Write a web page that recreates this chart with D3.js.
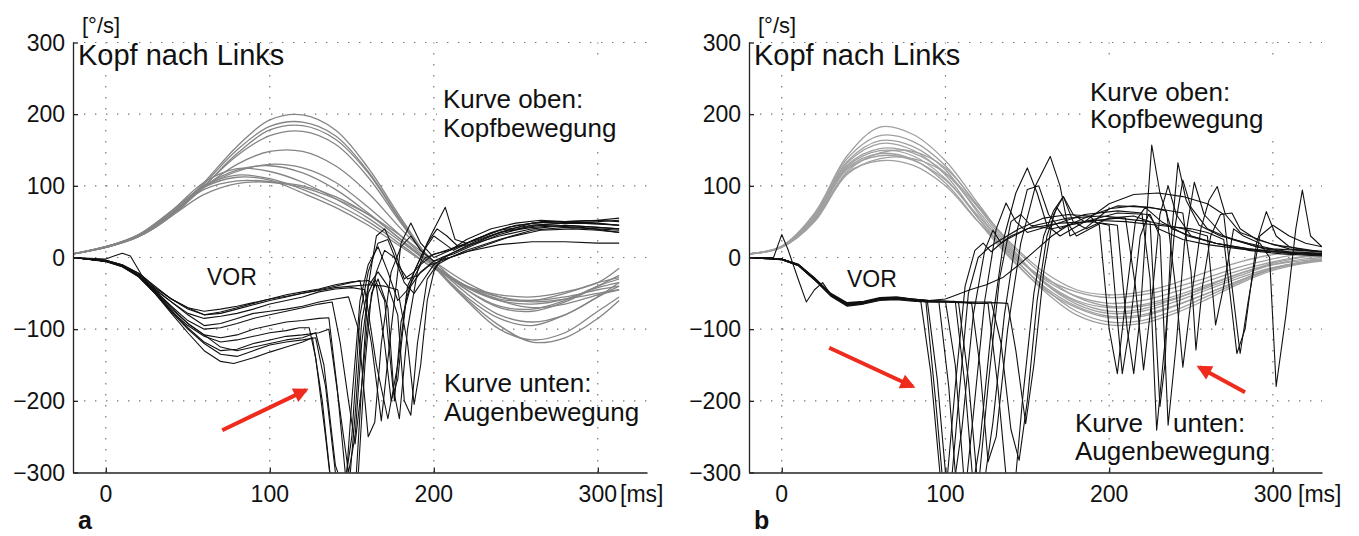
<!DOCTYPE html>
<html>
<head>
<meta charset="utf-8">
<script src="https://cdn.jsdelivr.net/npm/d3@7"></script>
<style>
  body { margin: 0; background: #fff; }
  svg text { font-family: "Liberation Sans", Arial, Helvetica, sans-serif; fill: #111; }
</style>
</head>
<body>
<div id="chart"></div>
<script>
// axis ticks
var xTicks = [0, 100, 200, 300];
var yTicks = [-300, -200, -100, 0, 100, 200, 300];

// panel a: head velocity (grey), sampled at headTimesA
var headTimesA = [-20, 0, 20, 40, 60, 80, 100, 120, 140, 160, 180, 200, 220, 240, 260, 280, 300, 313];
var headA = [
  [5, 14, 30, 60, 105, 155, 192, 199, 178, 125, 55, -10, -55, -85, -95, -80, -55, -40],
  [5, 14, 30, 60, 103, 150, 183, 189, 170, 120, 52, -12, -60, -100, -115, -105, -75, -55],
  [5, 14, 29, 58, 100, 145, 178, 184, 165, 118, 50, -10, -58, -95, -118, -112, -85, -60],
  [5, 14, 29, 58, 100, 142, 170, 176, 158, 112, 48, -8, -50, -80, -90, -80, -55, -35],
  [5, 14, 29, 58, 98, 130, 148, 148, 128, 90, 40, -5, -45, -70, -75, -62, -40, -25],
  [5, 15, 30, 60, 98, 120, 130, 125, 105, 70, 30, -10, -45, -68, -72, -60, -40, -30],
  [5, 15, 31, 62, 100, 122, 128, 118, 95, 62, 25, -10, -40, -58, -60, -50, -35, -28],
  [5, 15, 32, 65, 105, 124, 120, 105, 82, 55, 22, -12, -42, -60, -65, -58, -42, -35],
  [5, 15, 32, 65, 100, 115, 110, 95, 75, 50, 18, -15, -40, -55, -60, -55, -45, -40],
  [5, 15, 31, 62, 95, 107, 106, 100, 85, 60, 25, -12, -40, -60, -70, -65, -52, -45],
  [5, 15, 30, 58, 88, 103, 105, 98, 82, 60, 30, -5, -35, -55, -62, -58, -50, -45],
  [5, 15, 31, 63, 98, 112, 108, 90, 70, 45, 15, -15, -40, -52, -55, -48, -35, -15]
];

// panel a: eye velocity (black), [ms, deg/s]
var eyeA = [
  [[-20,0],[0,-4],[10,-10],[20,-22],[30,-42],[40,-58],[50,-70],[60,-75],[70,-72],[80,-68],[90,-63],[100,-58],[110,-54],[120,-50],[130,-45],[140,-40],[150,-35],[155,-32],[162,-120],[168,-228],[174,-100],[180,20],[186,48],[192,20],[200,0],[210,10],[220,25],[235,40],[250,48],[265,52],[280,50],[300,52],[313,50]],
  [[-20,0],[0,-5],[10,-11],[20,-24],[30,-45],[40,-62],[50,-78],[60,-85],[70,-82],[80,-78],[90,-72],[100,-65],[110,-60],[120,-55],[130,-48],[140,-44],[150,-42],[158,-45],[165,-150],[172,-225],[178,-150],[184,-40],[190,-10],[198,30],[207,70],[213,25],[220,20],[235,35],[250,45],[270,50],[290,48],[313,45]],
  [[-20,0],[0,-6],[10,-13],[20,-26],[30,-50],[40,-75],[50,-95],[60,-110],[70,-118],[80,-115],[90,-110],[100,-105],[110,-102],[118,-98],[124,-98],[128,-140],[134,-250],[138,-330],[146,-330],[150,-200],[155,-60],[160,-10],[166,15],[172,-20],[178,-60],[184,-45],[192,-10],[200,5],[210,10],[225,25],[240,38],[260,45],[280,48],[300,47],[313,45]],
  [[-20,0],[0,-5],[10,-12],[20,-25],[30,-48],[40,-72],[50,-92],[60,-108],[70,-125],[80,-130],[90,-125],[100,-120],[110,-115],[120,-112],[128,-105],[133,-150],[140,-290],[146,-330],[152,-330],[156,-180],[160,-40],[165,30],[170,40],[176,10],[182,-30],[188,-20],[195,0],[205,8],[220,20],[240,35],[260,42],[280,45],[300,42],[313,40]],
  [[-20,0],[0,-5],[10,-12],[20,-27],[30,-50],[40,-78],[50,-105],[60,-130],[70,-145],[78,-148],[90,-140],[100,-132],[110,-125],[120,-118],[126,-112],[132,-200],[138,-330],[148,-330],[152,-220],[156,-90],[160,-40],[166,-20],[172,-40],[178,-80],[182,-200],[186,-220],[190,-120],[196,-30],[202,-10],[210,0],[220,10],[240,25],[260,38],[280,42],[300,40],[313,38]],
  [[-20,0],[0,-5],[10,-12],[20,-26],[30,-48],[40,-74],[50,-98],[60,-118],[70,-130],[80,-128],[90,-120],[100,-115],[110,-110],[120,-108],[130,-105],[136,-100],[142,-200],[148,-300],[152,-250],[156,-120],[160,-50],[164,-30],[170,-60],[175,-180],[179,-225],[184,-100],[190,-20],[196,20],[202,40],[208,30],[215,15],[225,20],[240,30],[260,40],[280,45],[300,42],[313,40]],
  [[-20,0],[0,-4],[10,-11],[20,-24],[30,-44],[40,-62],[50,-80],[60,-95],[70,-92],[80,-85],[90,-78],[100,-75],[110,-72],[120,-68],[130,-62],[140,-58],[148,-55],[154,-100],[160,-250],[164,-230],[168,-120],[174,-20],[180,15],[186,30],[192,10],[200,-5],[210,5],[225,20],[240,35],[260,48],[280,50],[300,52],[313,55]],
  [[-20,0],[0,-2],[5,2],[10,6],[15,2],[22,-25],[30,-42],[40,-58],[50,-70],[60,-80],[70,-78],[80,-72],[90,-66],[100,-60],[110,-55],[120,-50],[130,-46],[140,-42],[150,-40],[160,-38],[170,-40],[178,-45],[184,-120],[188,-205],[192,-150],[196,-60],[200,-20],[205,0],[212,5],[225,18],[240,32],[260,45],[280,48],[300,50],[313,52]],
  [[-20,0],[0,-5],[10,-12],[20,-25],[30,-46],[40,-68],[50,-88],[60,-100],[70,-98],[80,-92],[90,-85],[100,-80],[110,-75],[120,-70],[130,-65],[138,-62],[143,-120],[148,-200],[152,-260],[156,-180],[160,-80],[165,-20],[170,10],[176,0],[182,-35],[188,-50],[194,-30],[200,-10],[210,5],[225,22],[245,38],[265,45],[290,42],[313,35]],
  [[-20,0],[0,-5],[10,-12],[20,-25],[30,-47],[40,-70],[50,-92],[60,-108],[70,-112],[80,-108],[90,-100],[100,-95],[110,-90],[120,-88],[130,-85],[136,-84],[141,-180],[146,-300],[150,-330],[154,-300],[158,-150],[162,-50],[166,-30],[172,-70],[176,-200],[180,-90],[186,-40],[192,-20],[200,-5],[210,0],[220,8],[240,18],[260,22],[280,22],[300,20],[313,20]],
  [[-20,0],[0,-4],[10,-10],[20,-22],[30,-40],[40,-58],[50,-72],[60,-80],[70,-76],[80,-70],[90,-64],[100,-58],[110,-52],[120,-48],[130,-44],[140,-38],[150,-34],[160,-32],[165,-40],[170,-120],[174,-200],[178,-170],[183,-60],[188,-20],[194,10],[200,30],[206,20],[212,10],[225,25],[245,42],[265,50],[285,50],[300,48],[313,45]],
  [[-20,0],[0,-5],[10,-13],[20,-27],[30,-50],[40,-76],[50,-100],[60,-120],[70,-135],[80,-138],[90,-130],[100,-122],[110,-118],[120,-115],[128,-112],[134,-180],[140,-300],[145,-330],[150,-250],[155,-80],[160,-20],[166,20],[172,25],[178,-10],[184,-30],[190,-25],[198,-10],[210,0],[225,12],[245,28],[265,38],[285,40],[300,38],[313,35]]
];

// panel b: head velocity (grey)
var headTimesB = [-20, 0, 20, 40, 60, 80, 100, 120, 140, 160, 180, 200, 220, 240, 260, 280, 300, 320, 330];
var headB = [
  [5, 16, 62, 142, 182, 172, 135, 75, 15, -35, -65, -78, -75, -62, -45, -28, -14, -6, -4],
  [5, 16, 60, 138, 170, 162, 128, 70, 12, -35, -62, -75, -72, -58, -40, -22, -10, -4, -2],
  [5, 15, 58, 134, 163, 155, 122, 62, 5, -42, -75, -90, -88, -74, -54, -34, -16, -7, -4],
  [5, 15, 57, 132, 159, 150, 115, 55, 0, -46, -80, -94, -92, -78, -58, -36, -18, -8, -5],
  [5, 15, 56, 129, 152, 146, 118, 65, 10, -33, -60, -70, -68, -57, -42, -25, -10, -2, 0],
  [5, 15, 55, 127, 149, 142, 110, 55, 3, -40, -68, -82, -80, -67, -50, -32, -15, -6, -3],
  [5, 15, 54, 123, 142, 136, 108, 58, 8, -30, -54, -64, -60, -48, -33, -18, -6, 2, 3],
  [5, 15, 52, 118, 135, 129, 100, 50, 5, -28, -48, -56, -52, -42, -28, -13, -2, 6, 7],
  [5, 14, 50, 120, 146, 148, 125, 72, 18, -25, -55, -68, -66, -54, -38, -22, -8, 1, 2],
  [5, 14, 50, 116, 138, 138, 118, 70, 20, -20, -45, -52, -48, -36, -20, -6, 4, 9, 10],
  [5, 15, 53, 125, 145, 137, 104, 50, -2, -44, -70, -84, -82, -68, -50, -32, -15, -6, -3]
];

// panel b: eye velocity (black)
var eyeB = [
  [[-20,0],[0,-2],[10,-10],[20,-30],[30,-52],[40,-66],[50,-63],[60,-58],[70,-57],[80,-60],[85,-62],[91,-160],[97,-310],[101,-310],[106,-180],[112,-40],[118,10],[123,20],[128,8],[135,22],[150,40],[170,48],[190,50],[200,45],[204,-60],[208,-162],[213,-90],[219,30],[224,60],[230,40],[245,25],[260,18],[280,12],[300,8],[330,5]],
  [[-20,0],[0,-3],[10,-11],[20,-31],[30,-53],[40,-67],[50,-64],[60,-59],[70,-58],[80,-60],[89,-62],[95,-170],[100,-300],[105,-320],[110,-240],[117,-80],[124,10],[129,38],[134,20],[140,30],[155,45],[175,55],[195,58],[210,55],[216,-40],[221,-157],[226,-60],[231,60],[236,100],[241,60],[250,30],[265,20],[285,12],[310,6],[330,4]],
  [[-20,0],[0,-2],[10,-10],[20,-29],[30,-51],[40,-64],[50,-62],[60,-57],[70,-56],[80,-59],[90,-61],[96,-62],[102,-180],[107,-330],[112,-330],[117,-220],[124,-60],[131,40],[137,76],[143,50],[150,35],[165,45],[185,60],[205,65],[220,62],[225,-30],[229,-241],[234,-120],[240,40],[245,108],[250,70],[260,40],[275,25],[295,12],[315,6],[330,5]],
  [[-20,0],[0,-2],[10,-9],[20,-28],[30,-50],[40,-63],[50,-61],[60,-56],[70,-55],[80,-58],[90,-60],[100,-61],[106,-150],[111,-300],[116,-330],[121,-260],[128,-100],[136,30],[143,90],[150,125],[156,90],[162,45],[170,30],[185,50],[205,62],[225,60],[231,30],[236,-234],[241,-120],[246,20],[252,105],[258,60],[270,30],[290,15],[310,8],[330,6]],
  [[-20,0],[0,-3],[10,-11],[20,-31],[30,-54],[40,-68],[50,-65],[60,-60],[70,-59],[80,-61],[90,-62],[100,-62],[108,-63],[114,-170],[119,-300],[124,-310],[129,-230],[136,-80],[144,40],[150,95],[157,100],[163,60],[170,40],[185,55],[205,72],[225,70],[235,65],[241,-50],[245,-153],[250,-60],[256,40],[261,80],[266,99],[271,60],[280,35],[300,18],[330,8]],
  [[-20,0],[0,-2],[10,-10],[20,-30],[30,-52],[40,-65],[50,-62],[60,-57],[70,-57],[80,-59],[90,-61],[100,-61],[110,-62],[116,-64],[121,-150],[126,-285],[131,-250],[138,-100],[146,20],[155,100],[164,141],[170,100],[176,30],[185,40],[200,68],[215,72],[230,68],[245,62],[250,-20],[253,-129],[257,-40],[262,30],[268,60],[275,62],[280,40],[290,25],[310,12],[330,8]],
  [[-20,0],[0,-2],[10,-10],[20,-30],[30,-52],[40,-65],[50,-62],[60,-58],[70,-57],[80,-59],[90,-60],[100,-58],[107,-52],[115,-45],[125,-38],[135,-28],[145,-10],[155,10],[165,30],[175,45],[190,52],[210,50],[230,45],[250,40],[260,35],[270,25],[278,-134],[283,-100],[290,20],[296,64],[302,30],[310,15],[320,10],[330,8]],
  [[-20,0],[-5,0],[0,32],[4,10],[10,-30],[15,-62],[20,-45],[25,-35],[30,-52],[40,-66],[50,-63],[60,-58],[70,-57],[80,-59],[90,-61],[100,-62],[110,-62],[120,-64],[126,-64],[132,-180],[138,-330],[142,-330],[147,-200],[154,-50],[160,30],[166,65],[172,85],[178,60],[185,50],[200,75],[215,88],[230,90],[245,85],[260,75],[270,60],[275,-40],[280,-134],[285,-60],[292,30],[300,45],[310,30],[320,20],[330,15]],
  [[-20,0],[0,-2],[10,-10],[20,-30],[30,-52],[40,-64],[50,-62],[60,-57],[70,-56],[80,-58],[90,-60],[100,-61],[110,-62],[120,-62],[128,-62],[134,-120],[140,-240],[145,-283],[150,-200],[156,-60],[162,30],[168,70],[174,50],[180,30],[195,48],[205,45],[211,-100],[215,-162],[219,-80],[223,60],[226,157],[231,90],[238,40],[250,30],[265,20],[285,10],[305,5],[330,2]],
  [[-20,0],[0,-3],[10,-11],[20,-31],[30,-53],[40,-67],[50,-64],[60,-58],[70,-57],[80,-60],[90,-62],[100,-62],[110,-63],[120,-64],[130,-63],[138,-64],[143,-130],[149,-232],[154,-150],[160,-20],[166,60],[172,85],[178,50],[186,40],[200,55],[215,58],[225,50],[231,-208],[234,-150],[238,30],[242,132],[247,80],[255,45],[268,30],[285,20],[300,12],[330,8]],
  [[-20,0],[0,-2],[10,-10],[20,-30],[30,-52],[40,-66],[50,-63],[60,-58],[70,-57],[80,-59],[90,-61],[100,-61],[106,-61],[112,-180],[117,-320],[121,-300],[126,-180],[133,-30],[140,50],[146,60],[152,45],[165,40],[185,50],[205,55],[225,50],[245,40],[260,30],[265,-94],[270,-40],[276,40],[282,30],[292,20],[298,0],[302,-180],[308,-80],[314,40],[318,94],[323,30],[330,15]],
  [[-20,0],[0,-2],[10,-10],[20,-29],[30,-51],[40,-64],[50,-62],[60,-57],[70,-56],[80,-58],[88,-60],[94,-200],[99,-330],[103,-330],[108,-200],[114,-50],[120,0],[127,15],[134,25],[145,40],[160,55],[175,60],[188,58],[194,45],[200,-100],[205,-162],[210,-60],[216,50],[222,70],[232,50],[248,30],[265,20],[285,12],[310,6],[330,3]]
];

// red arrows, [tail ms, tail deg/s, tip ms, tip deg/s]
var arrowsA = [[71, -241, 122, -185]];
var arrowsB = [[29, -126, 80, -180], [283, -188, 255, -153]];

var W = 1359, H = 536;
var plotTop = 42.5, plotBottom = 472.5;

var svg = d3.select("#chart").append("svg")
  .attr("width", W)
  .attr("height", H);

var defs = svg.append("defs");
defs.append("marker")
  .attr("id", "redhead")
  .attr("viewBox", "0 0 10 10")
  .attr("refX", 8).attr("refY", 5)
  .attr("markerUnits", "userSpaceOnUse")
  .attr("markerWidth", 17).attr("markerHeight", 15)
  .attr("orient", "auto")
  .append("path")
  .attr("d", "M0,0 L10,5 L0,10 Z")
  .attr("fill", "#ee2b1c");

function drawPanel(p) {
  var x = d3.scaleLinear().domain([-20, 330]).range([p.left, p.right]);
  var y = d3.scaleLinear().domain([-300, 300]).range([plotBottom, plotTop]);
  var g = svg.append("g");

  defs.append("clipPath").attr("id", "clip" + p.name)
    .append("rect")
    .attr("x", p.left).attr("y", plotTop - 10)
    .attr("width", p.right - p.left).attr("height", plotBottom - plotTop + 10);

  // dotted grid
  var grid = g.append("g").attr("stroke", "#777").attr("stroke-width", 1.2)
    .attr("stroke-dasharray", "1.4,9.6");
  grid.selectAll(".gx").data(xTicks).enter().append("line")
    .attr("x1", d => x(d)).attr("x2", d => x(d))
    .attr("y1", plotBottom).attr("y2", plotTop);
  grid.selectAll(".gy").data(yTicks.filter(d => d > -300)).enter().append("line")
    .attr("x1", p.left).attr("x2", p.right)
    .attr("y1", d => y(d)).attr("y2", d => y(d));

  // white box behind upper text
  g.append("rect")
    .attr("x", p.boxX).attr("y", 55)
    .attr("width", p.right - p.boxX + 2).attr("height", p.boxH)
    .attr("fill", "#fff");

  var plot = g.append("g").attr("clip-path", "url(#clip" + p.name + ")");

  var headLine = d3.line()
    .x((d, i) => x(p.headTimes[i]))
    .y(d => y(d))
    .curve(d3.curveCatmullRom);
  plot.selectAll(".head").data(p.head).enter().append("path")
    .attr("d", headLine)
    .attr("fill", "none")
    .attr("stroke", p.headColor)
    .attr("stroke-width", 1.3);

  var eyeLine = d3.line()
    .x(d => x(d[0]))
    .y(d => y(d[1]));
  plot.selectAll(".eye").data(p.eye).enter().append("path")
    .attr("d", eyeLine)
    .attr("fill", "none")
    .attr("stroke", "#111")
    .attr("stroke-width", 1.1)
    .attr("stroke-linejoin", "round");

  // axes (left and bottom), ticks pointing inward
  var xAxis = d3.axisBottom(x).tickValues(xTicks).tickSizeInner(-5).tickSizeOuter(0).tickFormat("");
  g.append("g").attr("transform", "translate(0," + plotBottom + ")").call(xAxis)
    .call(a => a.selectAll("path,line").attr("stroke", "#222").attr("stroke-width", 1.3));
  var yAxis = d3.axisLeft(y).tickValues(yTicks).tickSizeInner(-5).tickSizeOuter(0).tickFormat("");
  g.append("g").attr("transform", "translate(" + p.left + ",0)").call(yAxis)
    .call(a => a.selectAll("path,line").attr("stroke", "#222").attr("stroke-width", 1.3));

  // tick labels
  g.selectAll(".xl").data(xTicks).enter().append("text")
    .attr("x", d => x(d)).attr("y", 502)
    .attr("text-anchor", "middle")
    .attr("font-size", 23)
    .text(d => d);
  g.selectAll(".yl").data(yTicks).enter().append("text")
    .attr("x", p.left - 8).attr("y", d => y(d))
    .attr("dy", "0.36em")
    .attr("text-anchor", "end")
    .attr("font-size", 23)
    .text(d => d < 0 ? "\u2212" + Math.abs(d) : d);

  g.append("text").attr("x", p.msX).attr("y", 502).attr("font-size", 23).text("[ms]");
  g.append("text").attr("x", p.left + 9).attr("y", 33).attr("font-size", 22).text("[°/s]");
  g.append("text").attr("x", p.left + 5).attr("y", 65).attr("font-size", 29).text("Kopf nach Links");

  p.labels.forEach(function(l) {
    g.append("text").attr("x", l[0]).attr("y", l[1]).attr("font-size", l[3]).text(l[2]);
  });

  g.append("text").attr("x", p.left + 5).attr("y", 529)
    .attr("font-size", 25).attr("font-weight", "bold").text(p.name);

  p.arrows.forEach(function(a) {
    g.append("line")
      .attr("x1", x(a[0])).attr("y1", y(a[1]))
      .attr("x2", x(a[2])).attr("y2", y(a[3]))
      .attr("stroke", "#ee2b1c")
      .attr("stroke-width", 4)
      .attr("marker-end", "url(#redhead)");
  });
}

drawPanel({
  name: "a", left: 73, right: 647,
  headTimes: headTimesA, head: headA, eye: eyeA, headColor: "#858585",
  boxX: 437, boxH: 92, msX: 620,
  arrows: arrowsA,
  labels: [
    [443, 108, "Kurve oben:", 26], [443, 137, "Kopfbewegung", 26],
    [207, 285, "VOR", 23],
    [444, 392, "Kurve unten:", 26], [444, 421, "Augenbewegung", 26]
  ]
});

drawPanel({
  name: "b", left: 749, right: 1322,
  headTimes: headTimesB, head: headB, eye: eyeB, headColor: "#a0a0a0",
  boxX: 1084, boxH: 82, msX: 1298,
  arrows: arrowsB,
  labels: [
    [1090, 101, "Kurve oben:", 26], [1090, 128, "Kopfbewegung", 26],
    [847, 287, "VOR", 23],
    [1075, 432, "Kurve", 26], [1173, 432, "unten:", 26], [1075, 460, "Augenbewegung", 26]
  ]
});
</script>
</body>
</html>
